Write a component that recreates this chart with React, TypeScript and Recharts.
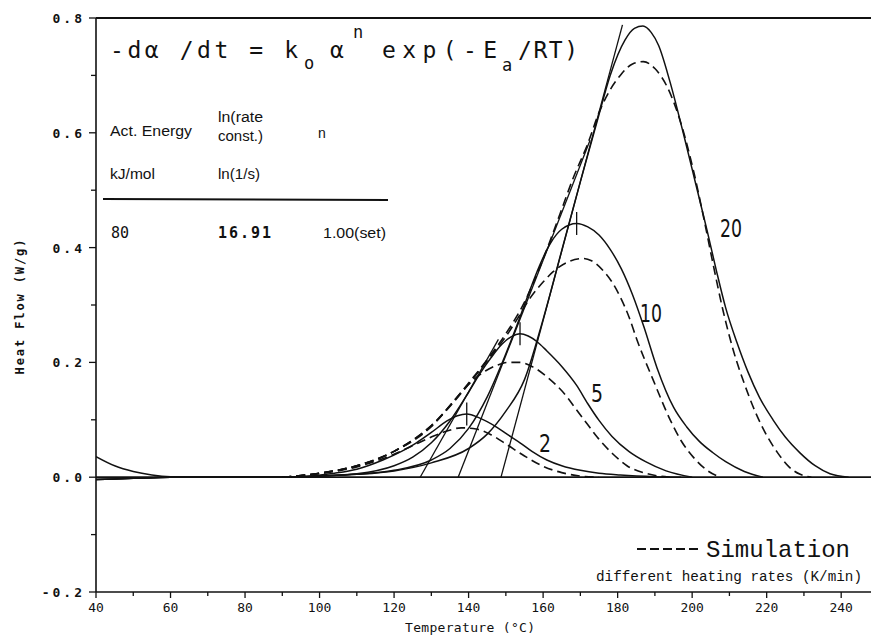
import { LineChart, Line, XAxis, YAxis, ReferenceLine } from 'recharts';

// axis ticks
const xMajor = [40, 60, 80, 100, 120, 140, 160, 180, 200, 220, 240];
const xMinor = [50, 70, 90, 110, 130, 150, 170, 190, 210, 230];
const yMajor = [-0.2, 0, 0.2, 0.4, 0.6, 0.8];
const yMinor = [-0.1, 0.1, 0.3, 0.5, 0.7];

// measured curves (solid), [temperature °C, heat flow W/g]
const meas20 = [[40, 0.036], [45, 0.02], [50, 0.01], [55, 0.004], [60, 0.001], [70, 0], [90, 0], [100, 0.002], [110, 0.005], [120, 0.011], [130, 0.025], [140, 0.05], [145, 0.075], [150, 0.115], [155, 0.17], [160, 0.275], [165, 0.395], [170, 0.515], [174.5, 0.62], [178, 0.7], [182, 0.762], [184.5, 0.782], [186.8, 0.786], [189, 0.775], [191, 0.752], [194, 0.69], [197.6, 0.6], [201, 0.51], [204, 0.43], [206.5, 0.36], [209, 0.295], [212, 0.235], [215, 0.183], [218, 0.14], [221.7, 0.1], [225, 0.07], [229, 0.042], [233, 0.02], [237, 0.006], [242, 0]];
const meas10 = [[40, -0.004], [50, -0.002], [60, 0], [90, 0], [100, 0.002], [110, 0.005], [120, 0.012], [130, 0.03], [135, 0.05], [140, 0.085], [145, 0.14], [150, 0.215], [153, 0.265], [156, 0.318], [159, 0.368], [162, 0.408], [165, 0.432], [169, 0.442], [172, 0.436], [175, 0.422], [178, 0.397], [181, 0.363], [184, 0.318], [187, 0.263], [190.6, 0.19], [195, 0.122], [198.5, 0.088], [202, 0.062], [205.5, 0.043], [209, 0.027], [214, 0.01], [219, 0]];
const meas5 = [[40, -0.004], [50, -0.002], [60, 0], [90, 0], [100, 0.002], [110, 0.006], [120, 0.02], [125, 0.035], [130, 0.06], [135, 0.098], [140, 0.148], [143, 0.18], [146, 0.208], [149, 0.232], [151.5, 0.245], [153.8, 0.25], [156, 0.246], [158.4, 0.236], [161, 0.22], [165, 0.193], [169, 0.16], [172, 0.128], [175, 0.099], [178.5, 0.071], [183, 0.045], [187.5, 0.027], [193, 0.011], [200, 0]];
const meas2 = [[40, -0.004], [50, -0.002], [60, 0], [90, 0], [95, 0.001], [104, 0.007], [110, 0.014], [117, 0.03], [122, 0.045], [126, 0.06], [130, 0.078], [134.2, 0.098], [137, 0.107], [139.5, 0.11], [143, 0.103], [147.6, 0.087], [150.5, 0.074], [153.8, 0.06], [157, 0.045], [161, 0.03], [165, 0.02], [170, 0.012], [175, 0.007], [180.7, 0.004], [190, 0.001], [197, 0]];

// simulation curves (dashed)
const sim20 = [[90, 0], [100, 0.007], [110, 0.02], [120, 0.045], [130, 0.09], [140, 0.164], [145, 0.205], [150, 0.25], [155, 0.305], [160, 0.38], [164.6, 0.46], [168, 0.52], [171.8, 0.578], [175.3, 0.64], [178, 0.675], [180.7, 0.7], [184, 0.72], [186.9, 0.724], [190, 0.712], [193.3, 0.68], [197.3, 0.61], [200.5, 0.53], [203, 0.455], [205.5, 0.375], [208.3, 0.29], [211, 0.222], [214, 0.163], [217, 0.113], [220, 0.073], [223, 0.042], [226, 0.018], [229, 0.005], [232, 0]];
const sim10 = [[90, 0], [100, 0.007], [110, 0.02], [120, 0.045], [130, 0.09], [140, 0.162], [145, 0.203], [150, 0.245], [153, 0.275], [156.5, 0.312], [160, 0.34], [162.7, 0.358], [167, 0.376], [170.8, 0.381], [173, 0.377], [176.1, 0.36], [178.5, 0.34], [180.7, 0.314], [183, 0.28], [185.2, 0.239], [189.5, 0.17], [194.1, 0.1], [197, 0.064], [200.3, 0.035], [204, 0.012], [207.5, 0]];
const sim5 = [[90, 0], [100, 0.007], [110, 0.02], [120, 0.045], [130, 0.088], [137, 0.14], [141, 0.168], [144.5, 0.185], [147.6, 0.195], [150.5, 0.2], [153.8, 0.2], [157, 0.193], [161, 0.175], [166.4, 0.14], [169, 0.117], [171.8, 0.093], [174.5, 0.07], [178.8, 0.04], [182.5, 0.02], [188, 0.006], [194, 0]];
const sim2 = [[90, 0], [100, 0.006], [110, 0.018], [120, 0.04], [125, 0.055], [130, 0.07], [134, 0.08], [138, 0.086], [142, 0.084], [146, 0.074], [150, 0.058], [155, 0.037], [160, 0.019], [165, 0.008], [170, 0.002], [175, 0]];

// onset tangents
const tangent20 = [[148.7, 0], [181.3, 0.788]];
const tangent10 = [[137.2, 0], [172.6, 0.587]];
const tangent5 = [[127, 0], [148, 0.24]];

// peak marks
const peakT = [186.8, 169, 153.8, 139.5];
const peakV = [0.786, 0.442, 0.25, 0.11];

const toPts = (a: number[][]) => a.map(([t, v]) => ({ t, v }));

const ink = '#111';
const mono = "'DejaVu Sans Mono', monospace";
const sans = "'Liberation Sans', Arial, sans-serif";
const courier = "'Liberation Mono', 'Courier New', monospace";

const XTick = (props: any) => {
  const { x, y, payload } = props;
  const major = xMajor.includes(payload.value);
  return (
    <g>
      <line x1={x} y1={y} x2={x} y2={y + (major ? 6 : 4)} stroke={ink} strokeWidth={1.3} />
      {major && (
        <text x={x} y={y + 20} textAnchor="middle" fontFamily={mono} fontSize={13} fill={ink}>
          {payload.value}
        </text>
      )}
    </g>
  );
};

const YTick = (props: any) => {
  const { x, y, payload } = props;
  const major = yMajor.some((m) => Math.abs(m - payload.value) < 1e-6);
  return (
    <g>
      <line x1={x} y1={y} x2={x - (major ? 7 : 5)} y2={y} stroke={ink} strokeWidth={1.3} />
      {major && (
        <text x={x - 11} y={y + 5} textAnchor="end" fontFamily={mono} fontWeight="bold" fontSize={13} letterSpacing={3} fill={ink}>
          {payload.value.toFixed(1)}
        </text>
      )}
    </g>
  );
};

const solid = [meas20, meas10, meas5, meas2];
const dashed = [sim20, sim10, sim5, sim2];
const tangents = [tangent20, tangent10, tangent5];

const App = () => {
  return (
    <div style={{ position: 'absolute', left: 0, top: 0, width: 871, height: 637, background: '#fff' }}>
      <LineChart width={871} height={637} margin={{ top: 18, right: 0, bottom: 0, left: 0 }}>
        <XAxis
          type="number"
          dataKey="t"
          domain={[40, 248]}
          ticks={[...xMajor, ...xMinor].sort((a, b) => a - b)}
          interval={0}
          height={45}
          tickSize={0}
          tickMargin={0}
          tickLine={false}
          tick={<XTick />}
          axisLine={{ stroke: ink, strokeWidth: 1.6 }}
          allowDataOverflow
        />
        <YAxis
          type="number"
          dataKey="v"
          domain={[-0.2, 0.8]}
          ticks={[...yMajor, ...yMinor].sort((a, b) => a - b)}
          interval={0}
          width={96}
          tickSize={0}
          tickMargin={0}
          tickLine={false}
          tick={<YTick />}
          axisLine={{ stroke: ink, strokeWidth: 1.6 }}
          allowDataOverflow
        />
        <ReferenceLine y={0.8} stroke={ink} strokeWidth={1.8} />
        <ReferenceLine y={0} stroke={ink} strokeWidth={1.8} />
        {solid.map((s, i) => (
          <Line key={'s' + i} data={toPts(s)} dataKey="v" type="monotone" stroke={ink} strokeWidth={1.5} dot={false} isAnimationActive={false} />
        ))}
        {dashed.map((s, i) => (
          <Line key={'d' + i} data={toPts(s)} dataKey="v" type="monotone" stroke={ink} strokeWidth={1.6} strokeDasharray="9 5" dot={false} isAnimationActive={false} />
        ))}
        {tangents.map((s, i) => (
          <Line key={'t' + i} data={toPts(s)} dataKey="v" type="linear" stroke={ink} strokeWidth={1.3} dot={false} isAnimationActive={false} />
        ))}
        {peakT.map((t, i) => (
          <ReferenceLine key={'p' + i} segment={[{ x: t, y: peakV[i] - 0.02 }, { x: t, y: peakV[i] + 0.02 }]} stroke={ink} strokeWidth={1.3} />
        ))}
      </LineChart>

      <svg width={871} height={637} style={{ position: 'absolute', left: 0, top: 0, pointerEvents: 'none' }}>
        <text fontFamily={mono} fontSize={23} fill={ink}>
          <tspan x={110} y={58} textLength={188} lengthAdjust="spacing">-dα /dt = k</tspan>
          <tspan x={304} y={69} fontSize={17}>o</tspan>
          <tspan x={330} y={58}>α</tspan>
          <tspan x={353} y={38} fontSize={17}>n</tspan>
          <tspan x={382} y={58} textLength={115} lengthAdjust="spacing">exp(-E</tspan>
          <tspan x={502} y={71} fontSize={17}>a</tspan>
          <tspan x={518} y={58} textLength={60} lengthAdjust="spacing">/RT)</tspan>
        </text>

        <g fontFamily={sans} fill={ink}>
          <text x={110} y={136} fontSize={14} textLength={82} lengthAdjust="spacingAndGlyphs">Act. Energy</text>
          <text x={218} y={122} fontSize={14} textLength={45} lengthAdjust="spacingAndGlyphs">ln(rate</text>
          <text x={218} y={141} fontSize={14} textLength={45} lengthAdjust="spacingAndGlyphs">const.)</text>
          <text x={318} y={138} fontSize={14}>n</text>
          <text x={110} y={179} fontSize={14} textLength={45} lengthAdjust="spacingAndGlyphs">kJ/mol</text>
          <text x={218} y={179} fontSize={14} textLength={42} lengthAdjust="spacingAndGlyphs">ln(1/s)</text>
          <text x={323} y={238} fontSize={14} textLength={63} lengthAdjust="spacingAndGlyphs">1.00(set)</text>
        </g>
        <line x1={103} y1={199} x2={388} y2={200} stroke={ink} strokeWidth={2} />
        <text x={111} y={238} fontFamily={mono} fontSize={15} fill={ink}>80</text>
        <text x={218} y={238} fontFamily={mono} fontSize={15} fontWeight="bold" fill={ink} textLength={53} lengthAdjust="spacing">16.91</text>

        <g fontFamily="'Liberation Sans Narrow', 'DejaVu Sans Condensed', sans-serif" fontSize={24} fill={ink}>
          <text x={720} y={237} textLength={22} lengthAdjust="spacingAndGlyphs">20</text>
          <text x={640} y={322} textLength={22} lengthAdjust="spacingAndGlyphs">10</text>
          <text x={591} y={402} textLength={12} lengthAdjust="spacingAndGlyphs">5</text>
          <text x={539} y={452} textLength={12} lengthAdjust="spacingAndGlyphs">2</text>
        </g>

        <line x1={637} y1={549} x2={700} y2={549} stroke={ink} strokeWidth={1.8} strokeDasharray="9 4" />
        <text x={706} y={557} fontFamily={courier} fontSize={24} fill={ink}>Simulation</text>
        <text x={596} y={581} fontFamily={courier} fontSize={14.3} fill={ink}>different heating rates (K/min)</text>

        <text transform="translate(24,307) rotate(-90)" textAnchor="middle" fontFamily={mono} fontWeight="bold" fontSize={12} fill={ink} textLength={135} lengthAdjust="spacing">Heat Flow (W/g)</text>
        <text x={470} y={632} textAnchor="middle" fontFamily={mono} fontSize={13} fill={ink} textLength={130} lengthAdjust="spacing">Temperature (°C)</text>
      </svg>
    </div>
  );
};

export default App;
